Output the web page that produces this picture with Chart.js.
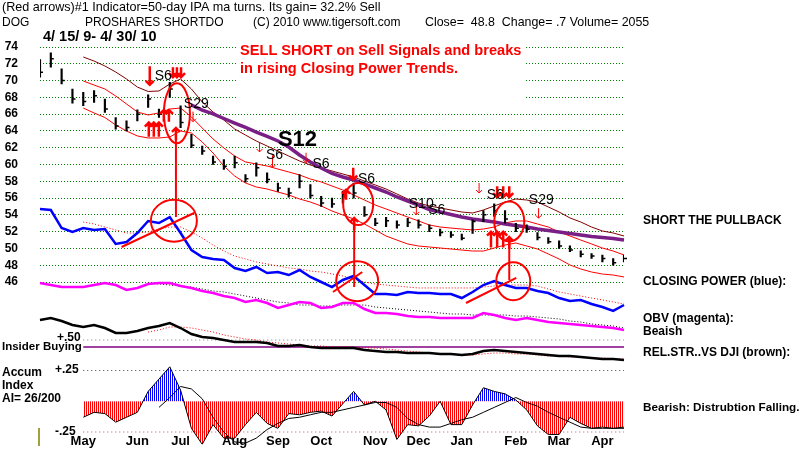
<!DOCTYPE html>
<html>
<head>
<meta charset="utf-8">
<script src="https://cdn.jsdelivr.net/npm/chart.js@4.4.0/dist/chart.umd.min.js"></script>
<style>
  html, body { margin: 0; padding: 0; background: #fff; }
  #wrap { width: 800px; height: 450px; }
</style>
</head>
<body>
<div id="wrap"><canvas id="chart" width="800" height="450"></canvas></div>
<script>
// weekly samples (Friday closes), DOG 4/15/09 - 4/30/10
const weeks = [
  '2009-04-17','2009-04-24','2009-05-01','2009-05-08','2009-05-15','2009-05-22','2009-05-29','2009-06-05','2009-06-12','2009-06-19',
  '2009-06-26','2009-07-02','2009-07-10','2009-07-17','2009-07-24','2009-07-31','2009-08-07','2009-08-14','2009-08-21','2009-08-28',
  '2009-09-04','2009-09-11','2009-09-18','2009-09-25','2009-10-02','2009-10-09','2009-10-16','2009-10-23','2009-10-30','2009-11-06',
  '2009-11-13','2009-11-20','2009-11-27','2009-12-04','2009-12-11','2009-12-18','2009-12-24','2009-12-31','2010-01-08','2010-01-15',
  '2010-01-22','2010-01-29','2010-02-05','2010-02-12','2010-02-19','2010-02-26','2010-03-05','2010-03-12','2010-03-19','2010-03-26',
  '2010-04-01','2010-04-09','2010-04-16','2010-04-23','2010-04-30'
];
const monthNames = ['Jan','Feb','Mar','Apr','May','Jun','Jul','Aug','Sep','Oct','Nov','Dec'];
const priceTicks = [46, 48, 50, 52, 54, 56, 58, 60, 62, 64, 66, 68, 70, 72, 74];

const priceHigh = [72.5,73.3,71.4,69.0,68.6,68.8,67.8,65.6,65.2,66.5, 68.3,66.6,69.8,67.0,63.6,62.2,61.0,60.6,61.0,58.8,
  60.2,59.0,57.8,57.2,58.8,57.6,56.2,56.0,56.8,57.8, 55.0,53.6,53.7,53.3,53.6,53.4,52.8,52.3,52.0,51.7,
  53.4,54.5,55.3,54.5,53.0,52.8,51.9,51.3,50.9,50.3, 49.7,49.4,49.2,48.8,49.2];
const priceLow = [70.4,71.6,69.6,67.3,67.0,67.4,66.2,64.2,64.0,65.2, 66.8,65.6,68.0,64.4,62.0,61.2,60.0,59.4,59.6,57.9,
  58.6,57.8,56.8,56.1,57.2,56.0,55.0,54.9,55.4,56.0, 53.8,52.7,52.6,52.4,52.6,52.4,52.0,51.5,51.3,51.0,
  51.8,53.2,53.8,53.0,52.0,51.9,51.0,50.6,50.0,49.6, 49.0,48.8,48.4,48.0,48.4];
const priceClose = [71.0,72.6,70.0,67.8,67.5,68.2,66.6,64.6,64.4,66.0, 67.8,66.0,69.0,65.0,62.3,61.6,60.3,59.8,60.2,58.3,
  59.6,58.2,57.2,56.6,58.0,56.3,55.4,55.3,56.5,56.6, 54.0,53.0,53.3,52.8,53.1,52.8,52.4,51.9,51.6,51.2,
  53.2,54.0,54.5,53.5,52.4,52.3,51.3,50.8,50.3,49.8, 49.3,49.1,48.8,48.3,48.8];

// price bands and 50-day ma
const bandOuter = [null,null,null,null,72.81,72.33,71.74,71.02,70.19,69.23, 68.70,68.76,69.59,70.19,69.00,67.45,66.26,65.30,64.23,63.51,
  62.80,62.20,61.61,61.01,60.42,59.94,59.58,59.23,58.87,58.51, 58.03,57.56,57.08,56.49,55.89,55.41,55.06,54.82,54.58,54.34,
  54.22,54.58,55.06,55.53,55.89,55.77,55.53,54.94,54.34,53.63, 53.15,52.55,52.08,51.84,51.48];
const bandUpper = [null,null,null,null,69.95,69.47,69.00,68.16,67.21,66.26, 65.90,66.14,66.61,66.73,65.66,64.35,63.04,61.97,61.01,60.30,
  60.06,59.82,59.46,59.11,58.75,58.27,57.92,57.44,56.96,56.37, 55.77,55.17,54.70,54.22,53.74,53.27,52.79,52.55,52.43,52.31,
  52.20,52.31,52.55,53.03,53.27,53.27,52.91,52.55,51.96,51.48, 51.00,50.53,50.05,49.69,49.22];
const bandLower = [null,null,null,null,66.73,66.14,65.60,64.71,63.99,63.40, 63.16,63.16,63.28,63.99,63.75,62.68,61.37,59.82,58.63,57.80,
  57.32,57.08,56.72,56.37,55.89,55.53,55.06,54.46,53.98,53.51, 52.91,52.20,51.48,51.00,50.53,50.29,50.17,50.05,49.93,49.81,
  49.69,49.69,50.05,50.41,50.65,50.29,49.93,49.34,48.74,48.03, 47.55,47.19,46.95,46.83,46.60];
const ma50 = [null,null,null,null,null,null,null,null,null,null, null,null,null,null,67.09,66.49,66.02,65.48,64.94,64.41,
  63.87,63.34,62.80,62.08,61.13,60.30,59.58,58.93,58.51,58.15, 57.68,57.20,56.72,56.13,55.65,55.17,54.64,54.34,54.04,53.74,
  53.51,53.33,53.15,52.91,52.73,52.55,52.32,52.14,51.96,51.78, 51.60,51.42,51.30,51.18,51.00];

// closing power, plotted against the price scale
const closingPower = [54.70,54.58,52.43,51.96,52.43,52.20,52.31,50.53,50.77,51.84, 53.27,53.03,53.74,51.84,49.81,48.98,48.74,48.62,47.67,47.31,
  47.79,47.07,47.19,46.83,47.43,46.60,46.00,45.40,46.24,46.72, 45.64,44.57,44.57,44.45,44.81,44.69,44.69,44.57,44.57,44.09,
  44.81,45.64,46.12,45.64,45.28,45.28,44.93,44.69,44.09,43.73, 43.86,43.38,43.02,42.55,43.26];
const closingPowerMa = [null,null,null,null,53.15,52.91,52.55,52.20,51.84,51.84, 51.96,52.32,52.55,52.55,51.96,51.24,50.41,49.69,49.10,48.74,
  48.39,48.15,47.91,47.67,47.55,47.31,47.19,46.96,46.72,46.36, 46.00,45.76,45.64,45.52,45.40,45.29,45.29,45.29,45.29,45.29,
  45.29,45.40,45.52,45.64,45.64,45.64,45.52,45.17,44.81,44.57, 44.33,44.09,43.86,43.62,43.38];

// on-balance volume (relative units)
const obv = [94,90,86,86,86,90,94,90,80,84, 92,94,94,88,84,78,74,68,64,56, 60,54,44,50,56,54,44,46,54,54,
  42,34,34,32,28,26,26,24,24,24, 24,34,30,24,20,24,20,16,14,12, 10,8,6,4,0];
const obvMa = [null,null,null,null,null,null,null,null,null,null, 94,92,90,88,86,82,78,76,72,68, 64,60,56,54,50,50,48,48,50,50,
  50,46,44,42,40,38,36,34,32,32, 30,30,30,30,28,28,26,24,22,18, 16,12,10,8,4];

// relative strength vs DJI
const relStr = [0.90,0.94,0.88,0.80,0.76,0.80,0.74,0.64,0.64,0.68, 0.74,0.78,0.84,0.74,0.62,0.56,0.54,0.50,0.46,0.46,
  0.46,0.44,0.38,0.38,0.40,0.36,0.34,0.34,0.34,0.34, 0.30,0.28,0.26,0.26,0.24,0.24,0.24,0.22,0.22,0.20,
  0.22,0.28,0.30,0.28,0.26,0.24,0.22,0.20,0.18,0.18, 0.16,0.14,0.12,0.12,0.10];
const relStrMa = [null,null,null,null,null,null,null,null,null,null, 0.66,0.70,0.76,0.76,0.74,0.70,0.66,0.60,0.56,0.52,
  0.50,0.46,0.44,0.42,0.40,0.38,0.38,0.36,0.36,0.36, 0.34,0.34,0.32,0.30,0.28,0.26,0.24,0.22,0.22,0.20,
  0.20,0.22,0.24,0.24,0.22,0.22,0.20,0.18,0.18,0.16, 0.16,0.14,0.14,0.12,0.12];
const rsLevel = 0.50;
const insiderLevel = 0.36;

// accumulation index
const accumIndex = [null,null,null,null,-0.13,-0.09,-0.10,-0.17,-0.13,-0.09, 0.08,0.18,0.28,0.09,-0.22,-0.35,-0.19,-0.30,-0.30,-0.19,
  -0.09,-0.18,-0.22,-0.10,-0.11,-0.09,-0.08,-0.12,-0.02,0.08, -0.03,0.00,-0.07,-0.31,-0.19,-0.20,-0.12,0.00,-0.19,-0.19,
  -0.03,0.11,0.08,0.06,0.01,-0.07,-0.20,-0.27,-0.27,-0.13, -0.18,-0.22,-0.21,-0.22,-0.21];
const accumMa = [null,null,null,null,null,null,null,null,null,null, null,-0.05,0.03,0.12,0.10,0.02,-0.13,-0.25,-0.33,-0.34,
  -0.30,-0.23,-0.18,-0.14,-0.13,-0.11,-0.09,-0.09,-0.07,-0.05, -0.03,-0.01,-0.01,-0.05,-0.14,-0.19,-0.21,-0.21,-0.18,-0.15,
  -0.13,-0.09,-0.05,-0.01,0.03,-0.01,-0.04,-0.09,-0.13,-0.17, -0.21,-0.22,-0.22,-0.22,-0.22];
const accumLevels = [0.25, -0.25];

// hand-drawn markup, in (week index, price) units
const signalLabels = [
  ['S6', 10.6, 70.5], ['S29', 13.3, 67.2], ['S12', 22.0, 62.9, true], ['S6', 20.9, 61.1], ['S6', 25.2, 60.1],
  ['S6', 29.4, 58.2], ['S10', 34.1, 55.3], ['S6', 35.9, 54.6], ['S6', 41.3, 56.4], ['S29', 45.2, 55.7]
];
const signalArrows = [
  [10.15, 71.7, 69.5, true], [12.29, 71.6, 70.4, true], [12.66, 71.6, 70.4, true], [13.04, 71.6, 70.4, true],
  [14.15, 66.3, 65.1, false], [20.3, 62.6, 61.5, false], [21.5, 61.1, 59.6, false], [24.6, 61.4, 60.2, false],
  [28.96, 59.6, 58.2, true], [34.8, 55.2, 54.0, false], [40.6, 57.8, 56.6, false],
  [42.27, 57.4, 56.1, true], [42.83, 57.4, 56.1, true], [43.39, 57.4, 56.1, true], [46.1, 54.8, 53.6, false],
  [10.06, 63.3, 65.0, true], [10.52, 63.3, 65.0, true], [10.99, 63.3, 65.0, true],
  [11.45, 65.1, 66.5, true], [11.92, 65.1, 66.5, true], [28.3, 55.8, 57.0, true],
  [41.7, 50.1, 52.0, true], [42.27, 50.1, 52.0, true], [42.83, 50.1, 52.0, true]
];
const circles = [[12.66, 66.1, 13, 30], [12.38, 53.3, 23, 21], [29.42, 55.3, 15, 21], [29.33, 46.1, 21, 20], [43.39, 53.2, 15, 20], [43.76, 46.1, 17, 19]];
const pointers = [[12.57, 64.35, 53.74], [29.05, 53.63, 45.40], [43.39, 51.36, 46.24]];
const trendLines = [[7.54, 50.17, 14.25, 54.22], [27.09, 44.81, 29.8, 47.19], [39.39, 43.50, 44.04, 46.48]];

const FONT = '"Liberation Sans", Arial, sans-serif';
const AREA = { left: 40, right: 624, top: 40, bottom: 447 };

// each pane gets its own axis, pinned to its strip of the plot
function spanFor(v1, y1, v2, y2) {
  const perPx = (v1 - v2) / (y2 - y1);
  return { min: v2 - (AREA.bottom - y2) * perPx, max: v1 + (y1 - AREA.top) * perPx };
}
function paneSpans() {
  return {
    y: spanFor(74, 47, 46, 282),
    obv: spanFor(100, 280, 0, 330),
    rs: spanFor(0.5, 340, 0, 365),
    ai: spanFor(0.25, 370.5, -0.25, 432)
  };
}

function stripes(color) {
  const c = document.createElement('canvas');
  c.width = 2; c.height = 1;
  const g = c.getContext('2d');
  g.fillStyle = color;
  g.fillRect(0, 0, 1, 1);
  return g.createPattern(c, 'repeat');
}

function monthTick(i) {
  if (i === 0) return '';
  const [, m, d] = weeks[i].split('-').map(Number);
  return d >= 15 && d <= 21 ? monthNames[m - 1] : '';
}

function isPriceLine(v) {
  return priceTicks.some((t) => Math.abs(t - v) < 1e-6);
}

function line(data, color, width, axis, dash) {
  return {
    type: 'line', data, yAxisID: axis || 'y', borderColor: color, borderWidth: width,
    borderDash: dash || [], pointRadius: 0, tension: 0, fill: false
  };
}

function paneAxis(span) {
  return { axis: 'y', position: 'left', display: false, min: span.min, max: span.max };
}

function text(ctx, str, x, y, font, color, align) {
  ctx.font = font;
  ctx.fillStyle = color || '#000';
  ctx.textBaseline = 'middle';
  ctx.textAlign = align || 'left';
  ctx.fillText(str, x, y);
}

function arrow(ctx, x, yFrom, yTo, bold) {
  const dir = yTo > yFrom ? 1 : -1;
  const head = bold ? 4 : 3;
  ctx.lineWidth = bold ? 2.5 : 1;
  ctx.beginPath();
  ctx.moveTo(x, yFrom);
  ctx.lineTo(x, yTo);
  ctx.moveTo(x - head, yTo - dir * head);
  ctx.lineTo(x, yTo);
  ctx.lineTo(x + head, yTo - dir * head);
  ctx.stroke();
}

function hLevel(ctx, y, x1, x2, color, dash, width) {
  ctx.strokeStyle = color;
  ctx.lineWidth = width || 1;
  ctx.setLineDash(dash);
  ctx.beginPath();
  ctx.moveTo(x1, y);
  ctx.lineTo(x2, y);
  ctx.stroke();
  ctx.setLineDash([]);
}

const markup = {
  id: 'tigerMarkup',
  beforeDraw(chart) {
    const { ctx } = chart;
    ctx.save();
    ctx.fillStyle = '#fff';
    ctx.fillRect(0, 0, chart.width, chart.height);
    ctx.restore();
  },
  beforeDatasetsDraw(chart) {
    const { ctx, scales, chartArea } = chart;
    const x1 = scales.x.getPixelForValue(4);
    ctx.save();
    // white box behind the red headline
    ctx.fillStyle = '#fff';
    ctx.fillRect(238, chartArea.top, 287, 64);
    hLevel(ctx, scales.rs.getPixelForValue(rsLevel), x1, chartArea.right, '#7a7a7a', [1, 3]);
    hLevel(ctx, scales.rs.getPixelForValue(insiderLevel), x1, chartArea.right, '#800080', [], 1.5);
    hLevel(ctx, scales.ai.getPixelForValue(accumLevels[0]), x1, chartArea.right, '#404040', [1, 3]);
    hLevel(ctx, scales.ai.getPixelForValue(accumLevels[1]), x1, chartArea.right, '#d04060', [1, 3]);
    ctx.restore();
  },
  afterDatasetsDraw(chart) {
    const { ctx, scales } = chart;
    const px = (i) => scales.x.getPixelForValue(i);
    const py = (v) => scales.y.getPixelForValue(v);
    ctx.save();
    ctx.strokeStyle = '#ff0000';
    ctx.lineWidth = 2;
    circles.forEach(([i, v, rx, ry]) => {
      ctx.beginPath();
      ctx.ellipse(px(i), py(v), rx, ry, 0, 0, Math.PI * 2);
      ctx.stroke();
    });
    pointers.forEach(([i, top, bottom]) => {
      ctx.lineWidth = 2;
      ctx.beginPath();
      ctx.moveTo(px(i), py(bottom));
      ctx.lineTo(px(i), py(top));
      ctx.stroke();
      arrow(ctx, px(i), py(top) + 12, py(top), true);
    });
    ctx.lineWidth = 2;
    trendLines.forEach(([i1, v1, i2, v2]) => {
      ctx.beginPath();
      ctx.moveTo(px(i1), py(v1));
      ctx.lineTo(px(i2), py(v2));
      ctx.stroke();
    });
    signalArrows.forEach(([i, from, to, bold]) => arrow(ctx, px(i), py(from), py(to), bold));
    signalLabels.forEach(([label, i, v, big]) => {
      text(ctx, label, px(i), py(v), big ? 'bold 22px ' + FONT : '14px ' + FONT, '#000');
    });
    // month names under the plot
    weeks.forEach((w, i) => {
      const name = monthTick(i);
      if (name) text(ctx, name, px(i), 441, 'bold 13px ' + FONT, '#000', 'center');
    });
    ctx.restore();
  },
  afterDraw(chart) {
    const { ctx } = chart;
    ctx.save();
    const f12 = '12px ' + FONT;
    const b12 = 'bold 12px ' + FONT;
    text(ctx, '(Red arrows)#1 Indicator=50-day IPA ma turns. Its gain= 32.2% Sell', 2, 8, '12.6px ' + FONT);
    text(ctx, 'DOG', 2, 23, f12);
    text(ctx, 'PROSHARES SHORTDO', 85, 23, f12);
    text(ctx, '(C) 2010 www.tigersoft.com', 253, 23, f12);
    text(ctx, 'Close=  48.8  Change= .7 Volume= 2055', 425, 23, '12.4px ' + FONT);
    text(ctx, '4/ 15/ 9- 4/ 30/ 10', 43, 37, 'bold 14.5px ' + FONT);
    text(ctx, 'SELL SHORT on Sell Signals and breaks', 240, 51, 'bold 14.6px ' + FONT, '#ff0000');
    text(ctx, 'in rising Closing Power Trends.', 240, 69, 'bold 14.6px ' + FONT, '#ff0000');

    text(ctx, 'SHORT THE PULLBACK', 643, 221, b12);
    text(ctx, 'CLOSING POWER (blue):', 643, 282, b12);
    text(ctx, 'OBV (magenta):', 643, 319, b12);
    text(ctx, 'Beaish', 643, 332, b12);
    text(ctx, 'REL.STR..VS DJI (brown):', 643, 353, b12);
    text(ctx, 'Bearish: Distrubtion Falling.', 643, 408, 'bold 11.7px ' + FONT);

    text(ctx, '+.50', 57, 338, b12);
    text(ctx, 'Insider Buying', 2, 347, 'bold 11.5px ' + FONT);
    text(ctx, 'Accum', 2, 373, b12);
    text(ctx, '+.25', 55, 370, b12);
    text(ctx, 'Index', 2, 386, b12);
    text(ctx, 'AI= 26/200', 2, 399, b12);
    text(ctx, '-.25', 55, 432, b12);

    ctx.strokeStyle = '#808000';
    ctx.lineWidth = 1.5;
    ctx.beginPath();
    ctx.moveTo(39, 428);
    ctx.lineTo(39, 446);
    ctx.stroke();
    ctx.restore();
  }
};

const accumFill = line(accumIndex, '#000', 1, 'ai');
accumFill.fill = { target: 'origin', above: stripes('#0000ff'), below: stripes('#ff0000') };

const spans = paneSpans();
const chart = new Chart(document.getElementById('chart'), {
  type: 'line',
  data: {
    labels: weeks,
    datasets: [
      {
        type: 'line', data: priceClose, yAxisID: 'y', showLine: false,
        pointStyle: 'dash', pointRadius: 3, pointBorderWidth: 1.5, pointBorderColor: '#000', pointBackgroundColor: '#000'
      },
      {
        type: 'bar', data: priceLow.map((lo, i) => [lo, priceHigh[i]]), yAxisID: 'y',
        backgroundColor: '#000', barThickness: 1.5, borderWidth: 0
      },
      line(ma50, '#7a1f86', 3.5),
      line(bandOuter, '#800000', 1),
      line(bandUpper, '#ff0000', 1),
      line(bandLower, '#ff0000', 1),
      line(closingPower, '#0000ff', 2.5),
      line(closingPowerMa, '#ff0000', 1, 'y', [1, 2]),
      line(obv, '#ff00ff', 2.5, 'obv'),
      line(obvMa, '#000', 1, 'obv', [1, 2]),
      line(relStr, '#000', 2.5, 'rs'),
      line(relStrMa, '#ff0000', 1, 'rs', [1, 2]),
      line(accumMa, '#000', 1, 'ai'),
      accumFill
    ]
  },
  options: {
    responsive: false,
    devicePixelRatio: 1,
    animation: false,
    layout: { padding: { top: AREA.top, right: 800 - AREA.right, left: 0, bottom: 450 - AREA.bottom } },
    plugins: { legend: { display: false }, tooltip: { enabled: false } },
    scales: {
      x: { type: 'category', offset: false, display: false },
      y: {
        position: 'left', min: spans.y.min, max: spans.y.max,
        // fixed width, and no extra room reserved above/below for the tick labels
        afterFit: (s) => { s.width = AREA.left; s.paddingTop = 0; s.paddingBottom = 0; },
        grid: { drawTicks: false, lineWidth: 1, color: (c) => (c.tick && isPriceLine(c.tick.value) ? '#008000' : 'rgba(0,0,0,0)') },
        border: { display: false, dash: [1, 2] },
        ticks: {
          stepSize: 2, autoSkip: false, includeBounds: false, padding: 22, color: '#000',
          font: { family: FONT, size: 12, weight: 'bold' },
          callback: (v) => (isPriceLine(v) ? String(v) : '')
        }
      },
      obv: paneAxis(spans.obv),
      rs: paneAxis(spans.rs),
      ai: paneAxis(spans.ai)
    }
  },
  plugins: [markup]
});

// if the layout came out a little different, re-pin the panes to the real plot area
const area = chart.chartArea;
if (Math.abs(area.top - AREA.top) > 0.5 || Math.abs(area.bottom - AREA.bottom) > 0.5) {
  AREA.top = area.top;
  AREA.bottom = area.bottom;
  const fixed = paneSpans();
  Object.keys(fixed).forEach((id) => Object.assign(chart.options.scales[id], fixed[id]));
  chart.update();
}
</script>
</body>
</html>
